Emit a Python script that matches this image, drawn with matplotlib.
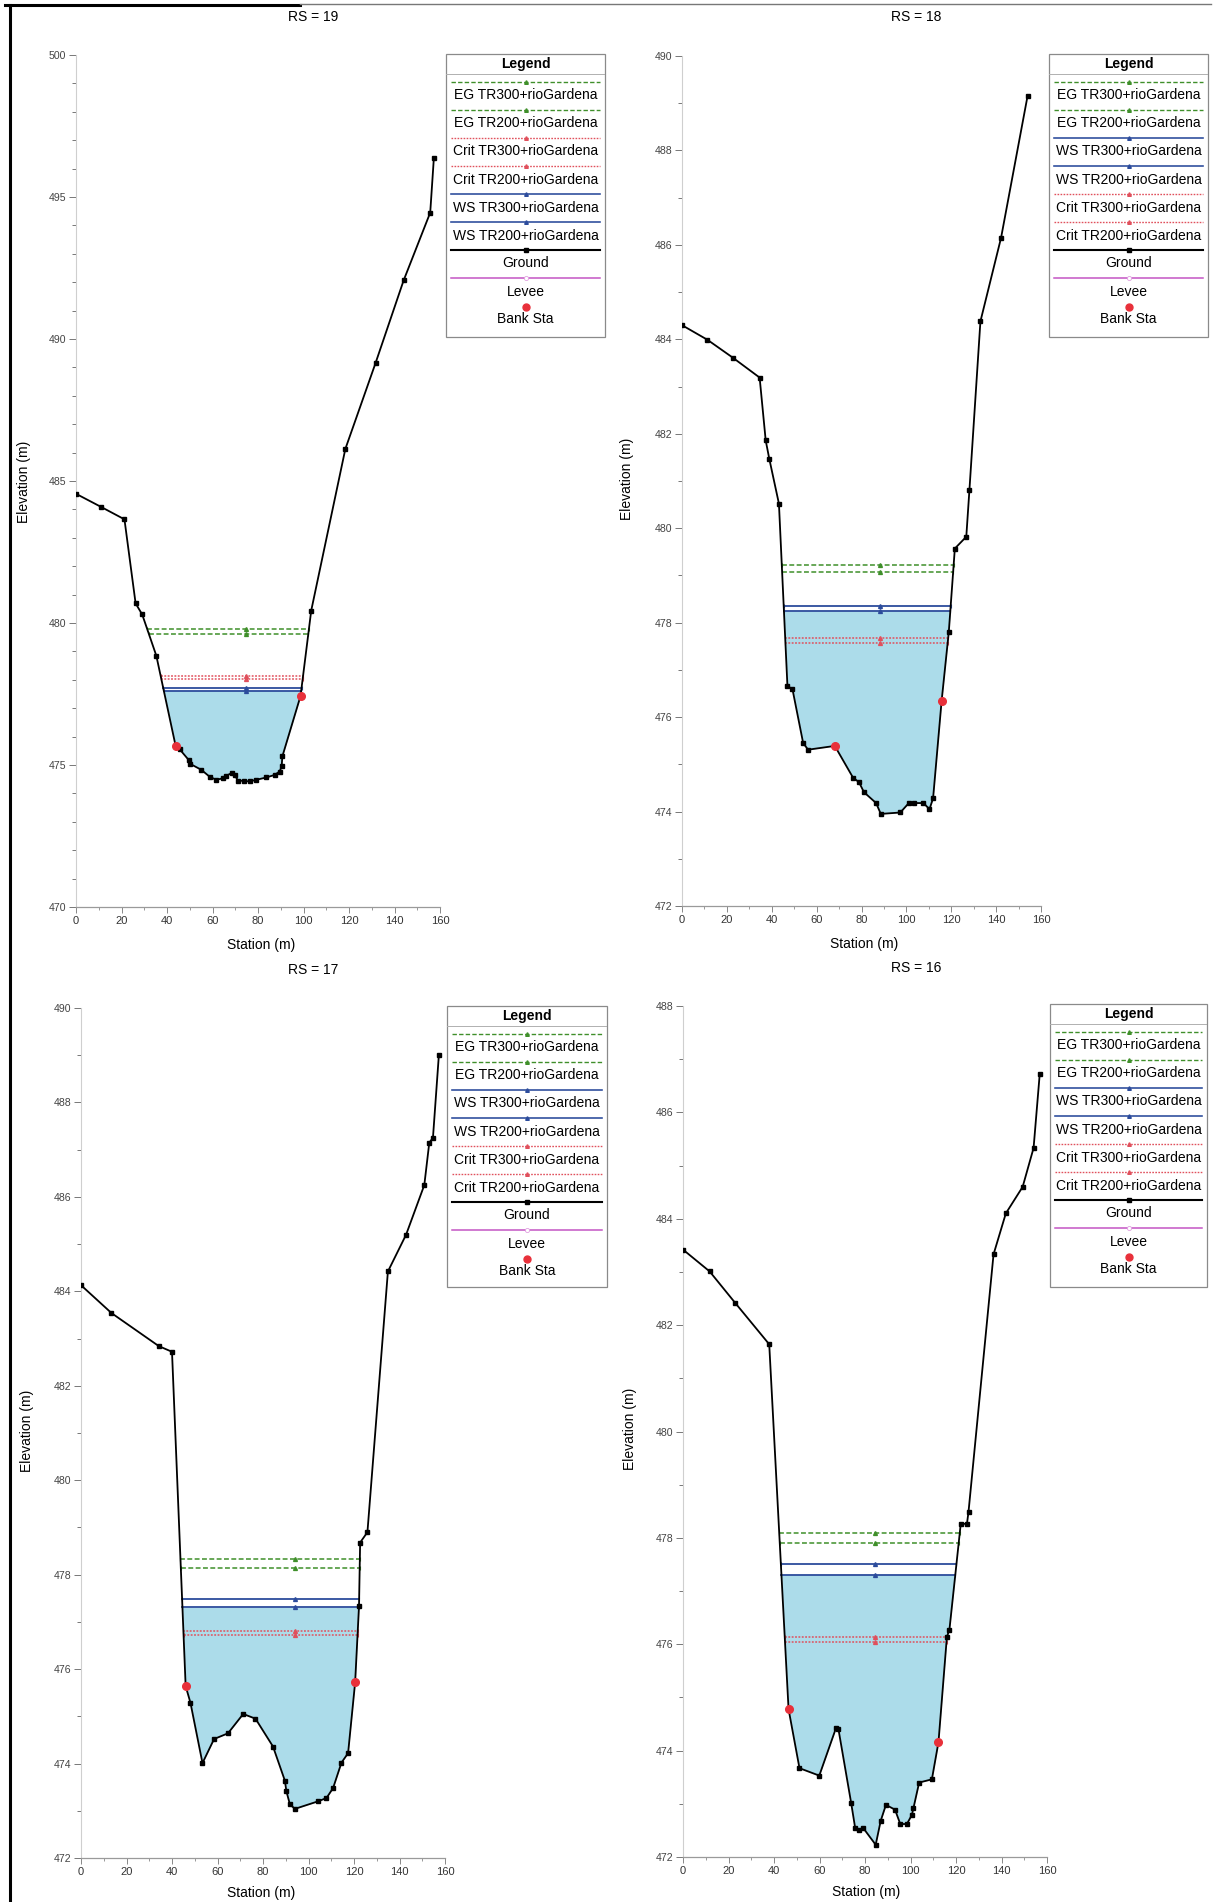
import numpy as np
import matplotlib
matplotlib.use('Agg')
import matplotlib.pyplot as plt
from matplotlib.ticker import MultipleLocator
from matplotlib.patches import Rectangle
from matplotlib.lines import Line2D

plt.rcParams['font.family'] = ['Liberation Sans', 'DejaVu Sans']

W, H = 1213, 1902

# ---------------- data ----------------
# RS = 19
sta_19 = [0, 11.2, 21.3, 26.2, 29.1, 35.3, 43.8, 45.5, 49.5, 50.2, 55.1, 58.7, 61.6, 64.6, 66.1,
          68.7, 69.7, 71.2, 73.7, 76.3, 79.3, 83.6, 87.3, 89.5, 90.4, 90.7, 98.7, 103.4, 118.4,
          131.7, 144.0, 155.7, 157.3]
elev_19 = [484.55, 484.08, 483.65, 480.69, 480.30, 478.85, 475.67, 475.56, 475.18, 475.04, 474.83,
           474.59, 474.48, 474.53, 474.62, 474.73, 474.65, 474.45, 474.44, 474.42, 474.48, 474.56,
           474.65, 474.77, 474.95, 475.30, 477.43, 480.44, 486.13, 489.16, 492.06, 494.45, 496.37]
banks_19 = [43.8, 98.7]
levels_19 = {'EG TR300': 479.79, 'EG TR200': 479.61, 'Crit TR300': 478.13,
             'Crit TR200': 478.02, 'WS TR300': 477.71, 'WS TR200': 477.62}

# RS = 18
sta_18 = [0, 11.35, 22.7, 34.6, 37.3, 38.9, 43.2, 47.0, 49.2, 54.0, 56.2, 68.1, 76.2, 78.9, 81.1,
          86.5, 88.6, 97.3, 101.1, 103.2, 107.6, 110.3, 111.9, 115.7, 118.9, 121.6, 126.7, 128.1,
          133.0, 142.2, 154.0]
elev_18 = [484.30, 483.99, 483.61, 483.19, 481.86, 481.47, 480.52, 476.65, 476.60, 475.45, 475.31,
           475.39, 474.72, 474.62, 474.41, 474.18, 473.95, 473.98, 474.18, 474.18, 474.18, 474.05,
           474.28, 476.34, 477.80, 479.57, 479.82, 480.81, 484.38, 486.15, 489.15]
banks_18 = [68.1, 115.7]
levels_18 = {'EG TR300': 479.22, 'EG TR200': 479.08, 'WS TR300': 478.35,
             'WS TR200': 478.25, 'Crit TR300': 477.67, 'Crit TR200': 477.58}

# RS = 17
sta_17 = [0, 13.4, 34.2, 40.0, 46.0, 48.1, 53.4, 58.5, 64.6, 71.3, 76.7, 84.4, 89.6, 90.3, 91.8,
          94.0, 104.2, 107.9, 110.8, 114.5, 117.4, 120.5, 122.2, 122.7, 125.9, 134.9, 142.9, 150.9,
          153.1, 154.7, 157.3]
elev_17 = [484.13, 483.54, 482.84, 482.72, 475.64, 475.29, 474.01, 474.52, 474.64, 475.05, 474.95,
           474.36, 473.64, 473.41, 473.14, 473.04, 473.20, 473.27, 473.48, 474.02, 474.22, 475.72,
           477.33, 478.68, 478.90, 484.42, 485.20, 486.25, 487.15, 487.25, 489.0]
banks_17 = [46.0, 120.5]
levels_17 = {'EG TR300': 478.34, 'EG TR200': 478.14, 'WS TR300': 477.49,
             'WS TR200': 477.31, 'Crit TR300': 476.81, 'Crit TR200': 476.73}

# RS = 16
sta_16 = [0, 11.7, 22.9, 37.9, 46.4, 51.2, 59.9, 67.3, 68.3, 73.9, 75.7, 77.5, 79.3, 84.7, 86.9,
          89.2, 93.2, 95.5, 98.4, 100.6, 101.3, 103.8, 109.4, 112.3, 116.0, 117.1, 122.1, 124.8,
          125.5, 136.5, 141.9, 149.3, 154.1, 156.8]
elev_16 = [483.42, 483.01, 482.42, 481.64, 474.78, 473.67, 473.53, 474.43, 474.41, 473.02, 472.54,
           472.51, 472.54, 472.23, 472.68, 472.98, 472.89, 472.62, 472.62, 472.79, 472.92, 473.40,
           473.46, 474.16, 476.14, 476.27, 478.27, 478.26, 478.49, 483.33, 484.10, 484.60, 485.33,
           486.72]
banks_16 = [46.4, 112.3]
levels_16 = {'EG TR300': 478.09, 'EG TR200': 477.91, 'WS TR300': 477.50,
             'WS TR200': 477.31, 'Crit TR300': 476.14, 'Crit TR200': 476.05}

titles = ['RS = 19', 'RS = 18', 'RS = 17', 'RS = 16']
label_sta = [74.7, 88.1, 93.9, 84.3]
ylims = [(470, 500), (472, 490), (472, 490), (472, 488)]
ymajor = [5, 2, 2, 2]
legend_order_a = ['EG TR300', 'EG TR200', 'Crit TR300', 'Crit TR200', 'WS TR300', 'WS TR200',
                  'Ground', 'Levee', 'Bank Sta']
legend_order_b = ['EG TR300', 'EG TR200', 'WS TR300', 'WS TR200', 'Crit TR300', 'Crit TR200',
                  'Ground', 'Levee', 'Bank Sta']
suffix = '+rioGardena'

# ---------------- styles ----------------
EG_C = '#3f8f2a'
CRIT_C = '#e0505c'
WS_C = '#2c4c9c'
LEVEE_C = '#c455c4'
BANK_C = '#e8303a'
FILL_C = '#acdcea'

STYLES = {
    'EG TR300': dict(color=EG_C, ls=(0, (3.2, 1.6)), lw=1.1, marker='^'),
    'EG TR200': dict(color=EG_C, ls=(0, (3.2, 1.6)), lw=1.1, marker='^'),
    'Crit TR300': dict(color=CRIT_C, ls=(0, (1.2, 1.0)), lw=1.1, marker='^'),
    'Crit TR200': dict(color=CRIT_C, ls=(0, (1.2, 1.0)), lw=1.1, marker='^'),
    'WS TR300': dict(color=WS_C, ls='-', lw=1.3, marker='^'),
    'WS TR200': dict(color=WS_C, ls='-', lw=1.3, marker='^'),
}


def extent(sta, elev, z):
    sta = np.asarray(sta, float)
    elev = np.asarray(elev, float)
    i0 = int(np.argmin(elev))
    xl = sta[0]
    for i in range(i0, 0, -1):
        if elev[i - 1] >= z:
            x1, y1, x2, y2 = sta[i - 1], elev[i - 1], sta[i], elev[i]
            xl = x1 + (z - y1) * (x2 - x1) / (y2 - y1) if y2 != y1 else x1
            break
    xr = sta[-1]
    for i in range(i0, len(sta) - 1):
        if elev[i + 1] >= z:
            x1, y1, x2, y2 = sta[i], elev[i], sta[i + 1], elev[i + 1]
            xr = x1 + (z - y1) * (x2 - x1) / (y2 - y1) if y2 != y1 else x2
            break
    return xl, xr


fig = plt.figure(figsize=(W / 100, H / 100), dpi=100)


def px_axes(x0, y_top, x1, y_bot):
    return fig.add_axes([x0 / W, 1 - y_bot / H, (x1 - x0) / W, (y_bot - y_top) / H])


def draw_panel(ax, sta, elev, banks, levels, ylim, major, lab_sta):
    sta = np.asarray(sta, float)
    elev = np.asarray(elev, float)
    ws_fill = levels['WS TR200']
    xl, xr = extent(sta, elev, ws_fill)
    xs = np.linspace(xl, xr, 800)
    gs = np.interp(xs, sta, elev)
    ax.fill_between(xs, gs, ws_fill, where=gs <= ws_fill, color=FILL_C, lw=0, zorder=1)
    for key, z in levels.items():
        st = STYLES[key]
        a, b = extent(sta, elev, z)
        ax.plot([a, b], [z, z], color=st['color'], ls=st['ls'], lw=st['lw'], zorder=3)
        ax.plot([lab_sta], [z], marker=st['marker'], ms=2.8, color=st['color'], zorder=3)
        ax.plot([a, b], [z, z], ls='none', marker='|', ms=3, mew=0.8, color=st['color'], zorder=3)
    ax.plot(sta, elev, color='black', lw=1.3, marker='s', ms=2.4, zorder=4)
    be = np.interp(banks, sta, elev)
    ax.plot(banks, be, ls='none', marker='o', ms=5.5, color=BANK_C, mec=BANK_C, zorder=5)

    ax.set_xlim(0, 160)
    ax.set_ylim(*ylim)
    ax.xaxis.set_major_locator(MultipleLocator(20))
    ax.xaxis.set_minor_locator(MultipleLocator(10))
    ax.yaxis.set_major_locator(MultipleLocator(major))
    ax.yaxis.set_minor_locator(MultipleLocator(1))
    for s in ['top', 'right']:
        ax.spines[s].set_visible(False)
    ax.spines['left'].set_color('#cfcfcf')
    ax.spines['left'].set_linewidth(0.8)
    ax.spines['bottom'].set_color('#9a9a9a')
    ax.spines['bottom'].set_linewidth(0.9)
    ax.tick_params(axis='y', which='major', length=5, width=0.7, color='#777', pad=2,
                   labelsize=7.6, labelcolor='#444')
    ax.tick_params(axis='y', which='minor', length=3, width=0.7, color='#777')
    ax.tick_params(axis='x', which='major', length=4, width=0.7, color='#888', pad=2.5,
                   labelsize=8, labelcolor='#333')
    ax.tick_params(axis='x', which='minor', length=2.5, width=0.6, color='#888')
    ax.patch.set_alpha(0)


def draw_legend(left, top, width, height, order):
    lax = px_axes(left, top, left + width, top + height)
    lax.set_xlim(0, width)
    lax.set_ylim(height, 0)
    lax.axis('off')
    lax.add_patch(Rectangle((0, 0), width, height, fill=False, ec='#8a8a8a', lw=0.9,
                            clip_on=False))
    lax.text(width / 2, 10, 'Legend', ha='center', va='center', fontsize=10, fontweight='bold')
    lax.plot([0, width], [20, 20], color='#b0b0b0', lw=0.7)
    y = 27.7
    m = 5
    for key in order:
        if key in STYLES:
            st = STYLES[key]
            lax.plot([m, width - m], [y, y], color=st['color'], ls=st['ls'], lw=st['lw'] * 0.9)
            lax.plot([width / 2], [y], marker=st['marker'], ms=2.6, color=st['color'])
            lax.text(width / 2, y + 13.5, key + suffix, ha='center', va='center', fontsize=10)
        elif key == 'Ground':
            lax.plot([m, width - m], [y, y], color='black', lw=1.5)
            lax.plot([width / 2], [y], marker='s', ms=2.6, color='black')
            lax.text(width / 2, y + 12.5, 'Ground', ha='center', va='center', fontsize=10)
        elif key == 'Levee':
            lax.plot([m, width - m], [y, y], color=LEVEE_C, lw=1.1)
            lax.plot([width / 2], [y], marker='o', ms=3, mfc='white', mec='#e0a0e0', mew=0.6)
            lax.text(width / 2, y + 13.5, 'Levee', ha='center', va='center', fontsize=10)
        elif key == 'Bank Sta':
            lax.plot([width / 2], [y], marker='o', ms=5, color=BANK_C)
            lax.text(width / 2, y + 12.5, 'Bank Sta', ha='center', va='center', fontsize=10)
        y += 28.1


panels = [
    (sta_19, elev_19, banks_19, levels_19, legend_order_a),
    (sta_18, elev_18, banks_18, levels_18, legend_order_b),
    (sta_17, elev_17, banks_17, levels_17, legend_order_b),
    (sta_16, elev_16, banks_16, levels_16, legend_order_b),
]
axes_px = [(76, 55, 440, 907), (682, 56, 1041, 906), (81, 1008, 445, 1858), (683, 1006, 1047, 1857)]
legend_px = [(446, 54, 159, 283), (1049, 54, 159, 283), (447, 1006, 160, 281), (1050, 1004, 157, 283)]
title_px = [(313, 17), (916, 17), (313, 970), (916, 968)]
xlab_px = [(261, 945), (864, 944), (261, 1893), (866, 1892)]
ylab_px = [(24, 482), (627, 479), (27, 1431), (630, 1429)]

for i, (sta, elev, banks, levels, order) in enumerate(panels):
    ax = px_axes(*axes_px[i])
    draw_panel(ax, sta, elev, banks, levels, ylims[i], ymajor[i], label_sta[i])
    draw_legend(*legend_px[i], order)
    tx, ty = title_px[i]
    fig.text(tx / W, 1 - ty / H, titles[i], ha='center', va='center', fontsize=10)
    sx, sy = xlab_px[i]
    fig.text(sx / W, 1 - sy / H, 'Station (m)', ha='center', va='center', fontsize=10)
    ex, ey = ylab_px[i]
    fig.text(ex / W, 1 - ey / H, 'Elevation (m)', ha='center', va='center', fontsize=10,
             rotation=90)

# scan border
fig.add_artist(Line2D([9.5 / W, 9.5 / W], [0, 1 - 5 / H], color='black', lw=2.2))
fig.add_artist(Line2D([5 / W, 300 / W], [1 - 5 / H, 1 - 5 / H], color='black', lw=2.2))
fig.add_artist(Line2D([300 / W, 1 - 2 / W], [1 - 4 / H, 1 - 4 / H], color='#777777', lw=1.0))

fig.savefig('out.png', dpi=100, facecolor='white')
